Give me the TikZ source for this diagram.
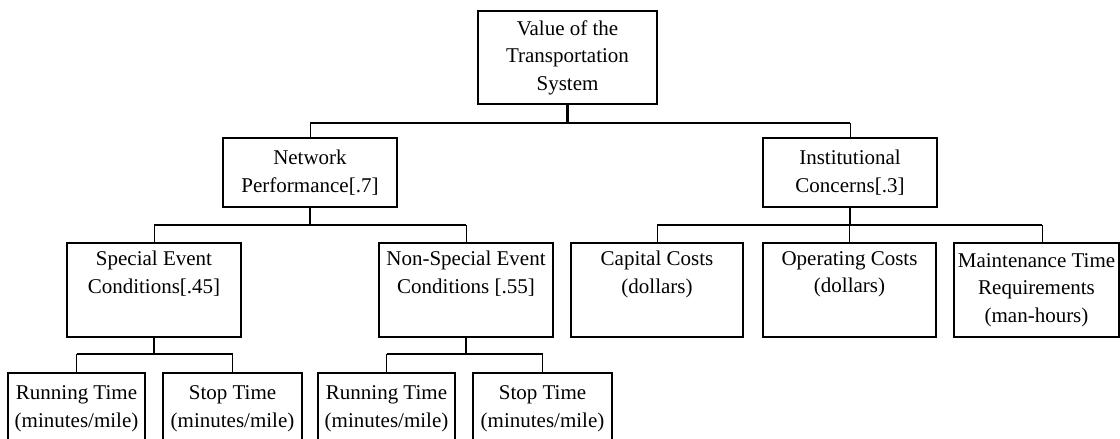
\documentclass[tikz,border=0pt]{standalone}
\usepackage{fontspec}
\setmainfont{Liberation Serif}
\begin{document}
\begin{tikzpicture}[x=1pt,y=-1pt,
  box/.style={draw=black, line width=2pt, rectangle, align=center, inner sep=0pt,
    font=\fontsize{21}{27.5}\selectfont,
    execute at begin node={\rule{0pt}{19.5pt}}},
  downstub/.style={line width=2.6pt},
  barline/.style={line width=1.7pt},
  upstub/.style={line width=1pt}]
\useasboundingbox (0,0) rectangle (1120,439);
\clip (0,0) rectangle (1120,439);

% level 1
\node[box, minimum width=179pt, minimum height=93pt] (top) at (567.5,57.5)
  {Value of the\\Transportation\\System};

% level 2
\node[box, minimum width=174pt, minimum height=69pt] (net) at (310,172.5)
  {Network\\Performance[.7]};
\node[box, minimum width=174pt, minimum height=69pt] (inst) at (850,172.5)
  {Institutional\\Concerns[.3]};

% level 3
\node[box, minimum width=174pt, minimum height=94pt] (sec) at (154,290)
  {Special Event\\Conditions[.45]\\\strut};
\node[box, minimum width=174pt, minimum height=94pt] (nsec) at (466,290)
  {Non-Special Event\\Conditions [.55]\\\strut};
\node[box, minimum width=172pt, minimum height=94pt] (cap) at (657,290)
  {Capital Costs\\(dollars)\\\strut};
\node[box, minimum width=173pt, minimum height=94pt] (opc) at (849.5,290)
  {Operating Costs\\(dollars)\\\strut};
\node[box, minimum width=165pt, minimum height=94pt] (mnt) at (1036.5,290)
  {Maintenance Time\\Requirements\\(man-hours)};

% level 4
\node[box, minimum width=137pt, minimum height=72pt] (rt1) at (76.5,409)
  {Running Time\\(minutes/mile)};
\node[box, minimum width=139pt, minimum height=72pt] (st1) at (232.5,409)
  {Stop Time\\(minutes/mile)};
\node[box, minimum width=137pt, minimum height=72pt] (rt2) at (386.5,409)
  {Running Time\\(minutes/mile)};
\node[box, minimum width=139pt, minimum height=72pt] (st2) at (542.5,409)
  {Stop Time\\(minutes/mile)};

% bar levels
\coordinate (b1) at (0,123);
\coordinate (b2) at (0,225);
\coordinate (b3) at (0,354);

% top -> level 2
\draw[downstub] (top.south) -- (top.south |- b1);
\draw[barline] (net.north |- b1) -- (inst.north |- b1);
\draw[upstub] (net.north |- b1) -- (net.north);
\draw[upstub] (inst.north |- b1) -- (inst.north);

% network performance -> event conditions
\draw[downstub] (net.south) -- (net.south |- b2);
\draw[barline] (sec.north |- b2) -- (nsec.north |- b2);
\draw[upstub] (sec.north |- b2) -- (sec.north);
\draw[upstub] (nsec.north |- b2) -- (nsec.north);

% institutional concerns -> costs
\draw[downstub] (inst.south) -- (inst.south |- b2);
\draw[barline] (cap.north |- b2) -- ([xshift=5.5pt]mnt.north |- b2);
\draw[upstub] (cap.north |- b2) -- (cap.north);
\draw[upstub] (opc.north |- b2) -- (opc.north);
\draw[upstub] ([xshift=5.5pt]mnt.north |- b2) -- ([xshift=5.5pt]mnt.north);

% special event -> times
\draw[downstub] (sec.south) -- (sec.south |- b3);
\draw[barline] (rt1.north |- b3) -- (st1.north |- b3);
\draw[upstub] (rt1.north |- b3) -- (rt1.north);
\draw[upstub] (st1.north |- b3) -- (st1.north);

% non-special event -> times
\draw[downstub] (nsec.south) -- (nsec.south |- b3);
\draw[barline] (rt2.north |- b3) -- (st2.north |- b3);
\draw[upstub] (rt2.north |- b3) -- (rt2.north);
\draw[upstub] (st2.north |- b3) -- (st2.north);
\end{tikzpicture}
\end{document}
